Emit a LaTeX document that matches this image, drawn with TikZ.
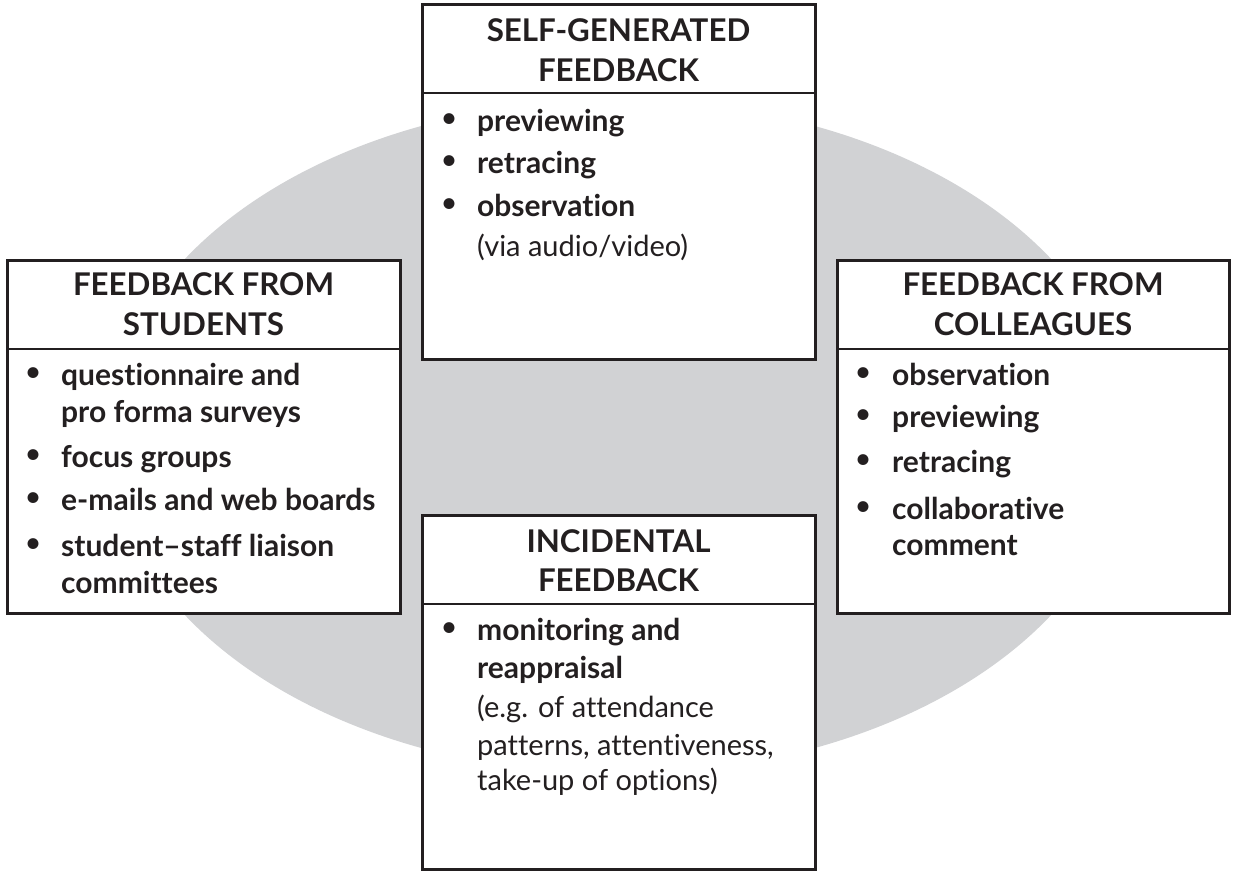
\documentclass[tikz,border=0pt]{standalone}
\usepackage{fontspec}
\setmainfont{Lato}[Ligatures=NoCommon]
\definecolor{ink}{HTML}{231F20}
\definecolor{ellgray}{HTML}{D1D2D4}
\begin{document}
\begin{tikzpicture}[x=1pt,y=-1pt,
  box/.style={draw=ink, line width=3pt, fill=white, rectangle, inner sep=0pt, outer sep=0pt, anchor=north west},
  divline/.style={draw=ink, line width=2pt},
  hd/.style={font=\fontsize{31.3}{36}\selectfont\bfseries, anchor=base, text=ink, inner sep=0pt},
  bl/.style={font=\fontsize{30}{34}\selectfont\bfseries, anchor=base west, text=ink, inner sep=0pt},
  pl/.style={font=\fontsize{29}{34}\selectfont, anchor=base west, text=ink, inner sep=0pt},
  bul/.style={font=\fontsize{25}{28}\selectfont\bfseries, anchor=center, text=ink, inner sep=0pt}]
\useasboundingbox (0,0) rectangle (1237,878);
\fill[ellgray] (618,437) ellipse [x radius=510pt, y radius=337pt];
% boxes
\node[box, minimum width=393pt, minimum height=355pt] (sgbox) at (422,4) {};
\node[box, minimum width=393pt, minimum height=353pt] (stbox) at (7,260) {};
\node[box, minimum width=392pt, minimum height=353pt] (cobox) at (837,260) {};
\node[box, minimum width=393pt, minimum height=354pt] (inbox) at (422,515) {};
\draw[divline] ([yshift=-89pt]sgbox.north west) -- ([yshift=-89pt]sgbox.north east);
\draw[divline] ([yshift=-89pt]stbox.north west) -- ([yshift=-89pt]stbox.north east);
\draw[divline] ([yshift=-89pt]cobox.north west) -- ([yshift=-89pt]cobox.north east);
\draw[divline] ([yshift=-89pt]inbox.north west) -- ([yshift=-89pt]inbox.north east);
% self-generated
\node[hd] (sgh1) at (618.5,41) {SELF-GENERATED};
\node[hd] (sgh2) at (618.5,81) {FEEDBACK};
\node[bul] (sgb1) at (449,120) {•};
\node[bl] (sgt1) at (477,131) {previewing};
\node[bul] (sgb2) at (449,162) {•};
\node[bl] (sgt2) at (477,173) {retracing};
\node[bul] (sgb3) at (449,205) {•};
\node[bl] (sgt3) at (477,216) {observation};
\node[pl] (sgt4) at (477,256) {(via audio/video)};
% students
\node[hd] (sth1) at (203.5,295) {FEEDBACK FROM};
\node[hd] (sth2) at (203.5,335) {STUDENTS};
\node[bul] (stb1) at (33,374) {•};
\node[bl] (stt1) at (61,385) {questionnaire and};
\node[bl] (stt2) at (61,422) {pro forma surveys};
\node[bul] (stb2) at (33,456) {•};
\node[bl] (stt3) at (61,467) {focus groups};
\node[bul] (stb3) at (33,499) {•};
\node[bl] (stt4) at (61,510) {e-mails and web boards};
\node[bul] (stb4) at (33,545) {•};
\node[bl] (stt5) at (61,556) {student–staff liaison};
\node[bl] (stt6) at (61,593) {committees};
% colleagues
\node[hd] (coh1) at (1033,295) {FEEDBACK FROM};
\node[hd] (coh2) at (1033,335) {COLLEAGUES};
\node[bul] (cob1) at (863,374) {•};
\node[bl] (cot1) at (892,385) {observation};
\node[bul] (cob2) at (863,416) {•};
\node[bl] (cot2) at (892,427) {previewing};
\node[bul] (cob3) at (863,461) {•};
\node[bl] (cot3) at (892,472) {retracing};
\node[bul] (cob4) at (863,508) {•};
\node[bl] (cot4) at (892,519) {collaborative};
\node[bl] (cot5) at (892,555) {comment};
% incidental
\node[hd] (inh1) at (618.5,552) {INCIDENTAL};
\node[hd] (inh2) at (618.5,591) {FEEDBACK};
\node[bul] (inb1) at (449,629) {•};
\node[bl] (int1) at (477,640) {monitoring and};
\node[bl] (int2) at (477,678) {reappraisal};
\node[pl] (int3) at (477,717) {(e.g. of attendance};
\node[pl] (int4) at (477,755) {patterns, attentiveness,};
\node[pl] (int5) at (477,790) {take-up of options)};
\end{tikzpicture}
\end{document}
